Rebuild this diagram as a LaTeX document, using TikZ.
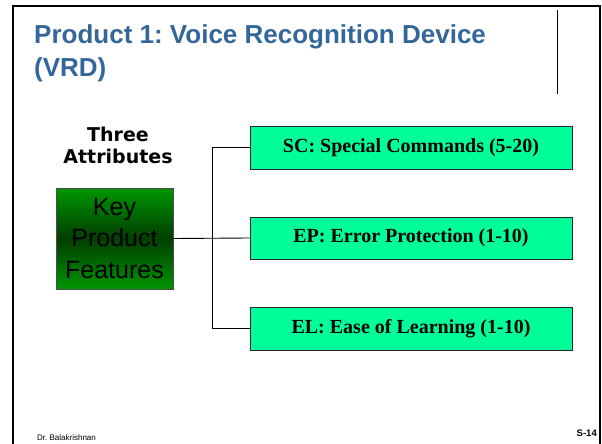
\documentclass[tikz,border=0pt]{standalone}
\usepackage{fontspec}
\setmainfont{Liberation Sans}
\newfontfamily\serifbf{Liberation Serif}
\newfontfamily\verdanalike{DejaVu Sans}
\usetikzlibrary{shadows}
\frenchspacing
\definecolor{titleblue}{RGB}{51,102,153}
\definecolor{attrgreen}{RGB}{0,255,153}
\definecolor{keylight}{RGB}{0,150,0}
\definecolor{keydark}{RGB}{0,62,0}
\tikzset{
  attrbox/.style={draw=black!85, line width=0.9pt, fill=attrgreen,
    minimum width=322pt, minimum height=43pt, inner sep=0pt,
    font=\serifbf\bfseries\fontsize{20}{24}\selectfont,
    drop shadow={shadow xshift=1.2pt, shadow yshift=-1.2pt, fill=black!30, opacity=1}},
  keybox/.style={draw=black!70, line width=0.8pt,
    top color=keylight, bottom color=keylight, middle color=keydark,
    minimum width=117pt, minimum height=101pt, inner sep=0pt, align=center,
    font=\fontsize{25}{31.5}\selectfont},
  link/.style={line width=0.9pt, black}
}
\begin{document}
\begin{tikzpicture}[x=1pt,y=-1pt]
\useasboundingbox (0,0) rectangle (602,444);
% slide frame
\draw[line width=2pt] (13,444) -- (13,6) -- (600,6) -- (600,444);
\draw[line width=1pt] (557,10) -- (557,94);
% title (the base anchor of a multi-line node sits on its last line)
\node[anchor=base west, inner sep=0pt, align=left, text=titleblue,
      font=\bfseries\fontsize{26}{33}\selectfont] (title) at (34,77)
  {Product 1: Voice Recognition Device\\(VRD)};
% heading over the key box
\node[anchor=base, inner sep=0pt, align=center,
      font=\verdanalike\bfseries\fontsize{19}{22}\selectfont] (heading) at (118,163)
  {Three\\Attributes};
% key box and attributes
\node[keybox] (key) at (114.5,238.5) {Key\\Product\\Features};
\node[attrbox] (sc) at (411,147.5) {SC: Special Commands (5-20)};
\node[attrbox, minimum height=42pt] (ep) at (411,238) {EP: Error Protection (1-10)};
\node[attrbox] (el) at (411,328.5) {EL: Ease of Learning (1-10)};
% connectors
\coordinate (jn) at (212,147.5);
\draw[link] (key.east) -- (ep.west);
\draw[link] (sc.west) -- (jn) |- (el.west);
% footer
\node[anchor=base west, inner sep=0pt, font=\fontsize{8}{9}\selectfont] (author) at (37,440) {Dr. Balakrishnan};
\node[anchor=base east, inner sep=0pt, font=\bfseries\fontsize{9.5}{11}\selectfont] (page) at (597,436) {S-14};
\end{tikzpicture}
\end{document}
